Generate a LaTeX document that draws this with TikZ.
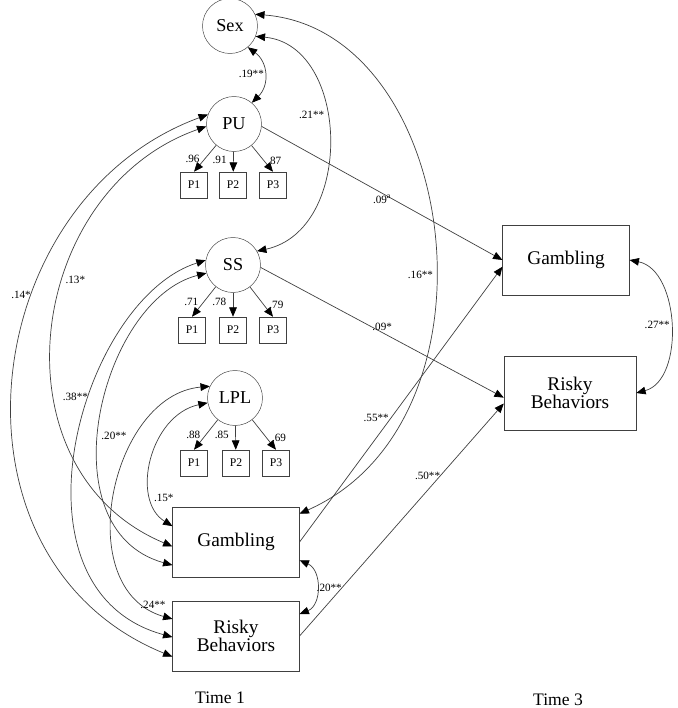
\documentclass[tikz,border=0pt]{standalone}
\usepackage{fontspec}
\setmainfont{Liberation Serif}
\usetikzlibrary{arrows.meta}

\tikzset{
  latent/.style={circle, draw=black!75, minimum size=1.65cm, inner sep=0pt, font=\fontsize{15.5}{18}\selectfont},
  item/.style={draw=black!75, minimum width=0.81cm, minimum height=0.78cm, inner sep=0pt, font=\fontsize{10}{12}\selectfont},
  measured/.style={draw=black!75, minimum width=3.8cm, minimum height=2.1cm, inner sep=0pt, align=center, font=\fontsize{16.5}{16}\selectfont},
  coef/.style={font=\fontsize{9.5}{11}\selectfont, inner sep=1.5pt},
  link/.style={draw=black!75, line width=0.6pt, -{Triangle[length=8pt,width=6.5pt,black]}},
  corr/.style={draw=black!75, line width=0.6pt, {Triangle[length=8pt,width=6.5pt,black]}-{Triangle[length=8pt,width=6.5pt,black]}},
}

\begin{document}
\begin{tikzpicture}[x=0.03cm, y=-0.03cm]
\useasboundingbox (0,0) rectangle (677,708);

\node[latent] (sex) at (230,26) {Sex};

\node[latent] (pu) at (234,124) {PU};
\node[item] (pu1) at (194,185) {P1};
\node[item] (pu2) at (233,185) {P2};
\node[item] (pu3) at (273,185) {P3};

\node[latent] (ss) at (233,265) {SS};
\node[item] (ss1) at (192,330) {P1};
\node[item] (ss2) at (233,330) {P2};
\node[item] (ss3) at (273,330) {P3};

\node[latent] (lpl) at (235,398) {LPL};
\node[item] (lpl1) at (194,463) {P1};
\node[item] (lpl2) at (236,463) {P2};
\node[item] (lpl3) at (276,463) {P3};

\node[measured] (gam1) at (236,542) {Gambling};
\node[measured] (risk1) at (236,636) {Risky\\Behaviors};
\node[measured] (gam3) at (566,260) {Gambling};
\node[measured, minimum width=3.96cm, minimum height=2.22cm] (risk3) at (570,393) {Risky\\Behaviors};

\node[font=\fontsize{15}{18}\selectfont] (time1) at (220,698) {Time 1};
\node[font=\fontsize{15}{18}\selectfont] (time3) at (558,700) {Time 3};

\draw[link] (pu) -- node[coef, pos=0.5, left=3pt] {.96} (pu1.north);
\draw[link] (pu) -- node[coef, pos=0.4, left=4pt] {.91} (pu2);
\draw[link] (pu) -- node[coef, pos=0.6, right=3pt] {87} (pu3.north);
\draw[link] (ss) -- node[coef, pos=0.5, left=3pt] {.71} (ss1.north);
\draw[link] (ss) -- node[coef, pos=0.4, left=4pt] {.78} (ss2);
\draw[link] (ss) -- node[coef, pos=0.6, right=3pt] {.79} (ss3.north);
\draw[link] (lpl) -- node[coef, pos=0.5, left=3pt] {.88} (lpl1.north);
\draw[link] (lpl) -- node[coef, pos=0.4, left=4pt] {.85} (lpl2);
\draw[link] (lpl) -- node[coef, pos=0.6, right=3pt] {.69} (lpl3.north);

\draw[corr] (sex.-50) .. controls (268,62) and (270,85) .. node[coef, midway, left, inner sep=0pt] {.19**} (pu.50);
\draw[corr] (sex.-22) .. controls (350,45) and (355,230) .. node[coef, pos=0.42, left] {.21**} (ss.30);
\draw[corr] (sex.25) .. controls (460,30) and (510,420) .. node[coef, pos=0.56, left] {.16**} (gam1.24);

\draw[link] (pu.-5) -- node[coef, midway, below] {.09\textsuperscript{a}} (gam3.west);
\draw[link] (ss.-5) -- node[coef, midway, above] {.09*} (risk3.184);
\draw[link] (gam1.east) -- node[coef, pos=0.45, left] {.55**} (gam3.186);
\draw[link] (risk1.east) -- node[coef, pos=0.69, left, inner sep=0pt] {.50**} (risk3.189);

\draw[corr] (gam3.east) .. controls (680,270) and (685,380) .. node[coef, midway, left, inner sep=0pt] {.27**} (risk3.east);
\draw[corr] (gam1.-16) .. controls (322,570) and (322,605) .. node[coef, midway, right, inner sep=0pt] {.20**} (risk1.19);

\draw[corr] (pu.160) .. controls (-25,200) and (-65,560) .. node[coef, pos=0.37, left] {.14*} (risk1.198);
\draw[corr] (pu.185) .. controls (25,190) and (-10,470) .. node[coef, pos=0.4, right] {.13*} (gam1.184);
\draw[corr] (ss.170) .. controls (80,300) and (0,590) .. node[coef, pos=0.4, left] {.38**} (risk1.181);
\draw[corr] (ss.197) .. controls (100,300) and (45,530) .. node[coef, pos=0.55, right] {.20**} (gam1.200);
\draw[corr] (lpl.155) .. controls (110,395) and (70,590) .. node[coef, pos=0.93, above] {.24**} (risk1.165);
\draw[corr] (lpl.190) .. controls (150,415) and (130,500) .. node[coef, pos=0.75, right] {.15*} (gam1.166);
\end{tikzpicture}
\end{document}
